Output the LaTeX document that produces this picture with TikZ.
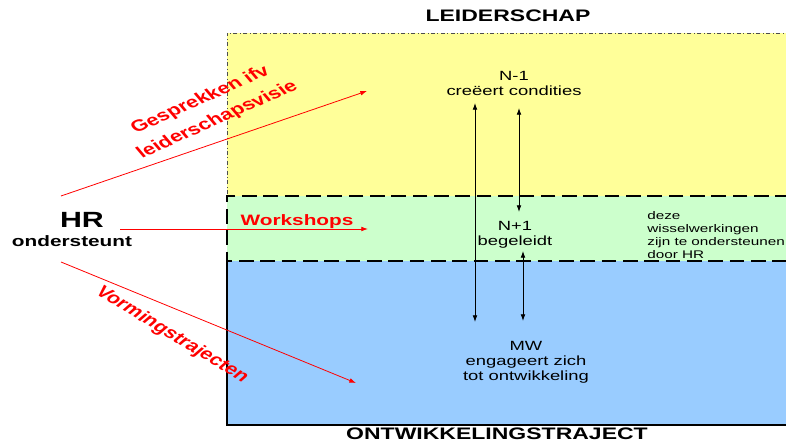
\documentclass[tikz,border=0pt]{standalone}
\usepackage{fontspec}
\setmainfont{Liberation Sans}
\usetikzlibrary{arrows.meta}
\definecolor{leadyellow}{HTML}{FFFF99}
\definecolor{guidegreen}{HTML}{CCFFCC}
\definecolor{devblue}{HTML}{99CCFF}

\begin{document}
\begin{tikzpicture}[>={Latex[length=5pt,width=3.5pt]},x=0.75pt,y=-0.75pt,
    wide/.style={xscale=1.38,inner sep=0pt},
    body/.style={wide,align=center,font=\fontsize{10}{11.25}\selectfont},
    title/.style={wide,font=\fontsize{12.5}{14}\selectfont\bfseries},
    hrlabel/.style={wide,red,align=center,font=\fontsize{11.3}{15}\selectfont\bfseries},
    slantlabel/.style={hrlabel,font=\fontsize{12}{17.5}\selectfont\bfseries},
    hrarrow/.style={->,red,line width=0.6pt},
    linkarrow/.style={<->,line width=0.6pt},
    bandline/.style={line width=1.4pt,dash pattern=on 11pt off 5pt}]

    \useasboundingbox (0,0) rectangle (786,443);

    % Bands
    \fill [leadyellow] (227,33) rectangle (790,196);
    \fill [guidegreen] (227,196) rectangle (790,261);
    \fill [devblue] (227,261) rectangle (790,425);
    \draw [gray!60!black,dash dot,line width=0.4pt] (790,33) -- (227,33) -- (227,196);
    \draw [bandline] (790,196) -- (227,196) -- (227,261) -- (790,261);
    \draw [line width=1.4pt] (227,261) -- (227,425) -- (790,425);

    % Titles
    \node [title] (lead) at (508,16) {LEIDERSCHAP};
    \node [title] (traject) at (497,434) {ONTWIKKELINGSTRAJECT};

    % Levels
    \node [body] (nmin) at (514,83) {N-1\\creëert condities};
    \node [body] (nplus) at (515,235) {N+1\\begeleidt};
    \node [body] (mw) at (526,362) {MW\\engageert zich\\tot ontwikkeling};
    \node [wide,align=left,anchor=west,font=\fontsize{8.3}{9.75}\selectfont] (note) at (647,235)
        {deze\\wisselwerkingen\\zijn te ondersteunen\\door HR};

    % Interactions
    \coordinate (top1) at (475,103);
    \coordinate (bot1) at (475,322);
    \coordinate (top2) at (519,108);
    \coordinate (bot2) at (519,212);
    \coordinate (top3) at (523,251);
    \coordinate (bot3) at (523,321);
    \draw [linkarrow] (top1) -- (bot1);
    \draw [linkarrow] (top2) -- (bot2);
    \draw [linkarrow] (top3) -- (bot3);

    % HR support
    \node [wide,font=\fontsize{16.5}{18}\selectfont\bfseries] (hr) at (82,220) {HR};
    \node [wide,font=\fontsize{11.3}{13}\selectfont\bfseries] (supports) at (72,241) {ondersteunt};

    \coordinate (talkfrom) at (61,196);
    \coordinate (talkto) at (367,91);
    \coordinate (shopfrom) at (120,229);
    \coordinate (shopto) at (368,229);
    \coordinate (coursefrom) at (61,262);
    \coordinate (courseto) at (356,383);
    \draw [hrarrow] (talkfrom) -- (talkto);
    \draw [hrarrow] (shopfrom) -- (shopto);
    \draw [hrarrow] (coursefrom) -- (courseto);

    \node [slantlabel,rotate=31.6] (talks) at (209,110) {Gesprekken ifv\\leiderschapsvisie};
    \node [hrlabel] (shops) at (297,222) {Workshops};
    \node [slantlabel,rotate=-39.7] (courses) at (172,335) {Vormingstrajecten};

\end{tikzpicture}
\end{document}
